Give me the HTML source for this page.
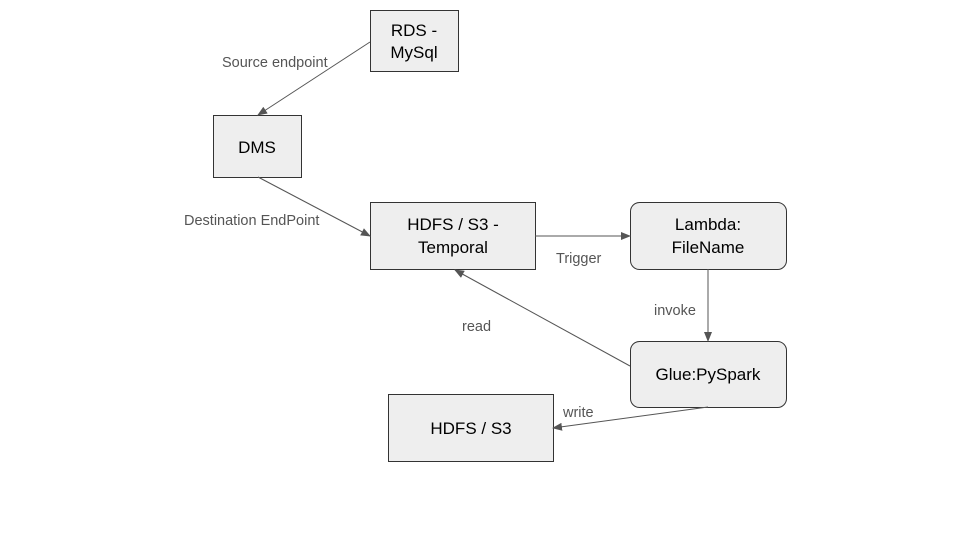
<!DOCTYPE html>
<html><head><meta charset="utf-8"><style>
html,body{margin:0;padding:0;background:#fff;}
svg{display:block;}
.b{fill:#eeeeee;stroke:#333;stroke-width:1;}
.t{font-family:"Liberation Sans",Arial,sans-serif;font-size:17px;fill:#000;text-anchor:middle;}
.l{font-family:"Liberation Sans",Arial,sans-serif;font-size:14.5px;fill:#555;}
.a{stroke:#555;stroke-width:1;fill:none;marker-end:url(#ah);}
</style></head><body>
<svg width="960" height="540" viewBox="0 0 960 540" xmlns="http://www.w3.org/2000/svg">
<defs><marker id="ah" markerWidth="10" markerHeight="8" refX="9" refY="4" orient="auto" markerUnits="userSpaceOnUse"><path d="M0,0 L10,4 L0,8 z" fill="#555"/></marker></defs>
<rect class="b" x="370.5" y="10.5" width="88" height="61"/>
<text class="t" x="414" y="36">RDS -</text><text class="t" x="414" y="58">MySql</text>
<rect class="b" x="213.5" y="115.5" width="88" height="62"/>
<text class="t" x="257" y="153">DMS</text>
<rect class="b" x="370.5" y="202.5" width="165" height="67"/>
<text class="t" x="453" y="230">HDFS / S3 -</text><text class="t" x="453" y="253">Temporal</text>
<rect class="b" x="630.5" y="202.5" width="156" height="67" rx="9"/>
<text class="t" x="708" y="230">Lambda:</text><text class="t" x="708" y="253">FileName</text>
<rect class="b" x="630.5" y="341.5" width="156" height="66" rx="9"/>
<text class="t" x="708" y="380">Glue:PySpark</text>
<rect class="b" x="388.5" y="394.5" width="165" height="67"/>
<text class="t" x="471" y="434">HDFS / S3</text>
<line class="a" x1="370" y1="42" x2="258" y2="115"/>
<line class="a" x1="258" y1="177" x2="370" y2="236"/>
<line class="a" x1="535" y1="236" x2="630" y2="236"/>
<line class="a" x1="708" y1="269" x2="708" y2="341"/>
<line class="a" x1="630" y1="366" x2="455" y2="270"/>
<line class="a" x1="708" y1="407" x2="553" y2="428"/>
<text class="l" x="222" y="67">Source endpoint</text>
<text class="l" x="184" y="225">Destination EndPoint</text>
<text class="l" x="556" y="263">Trigger</text>
<text class="l" x="654" y="315">invoke</text>
<text class="l" x="462" y="331">read</text>
<text class="l" x="563" y="417">write</text>
</svg>
</body></html>
